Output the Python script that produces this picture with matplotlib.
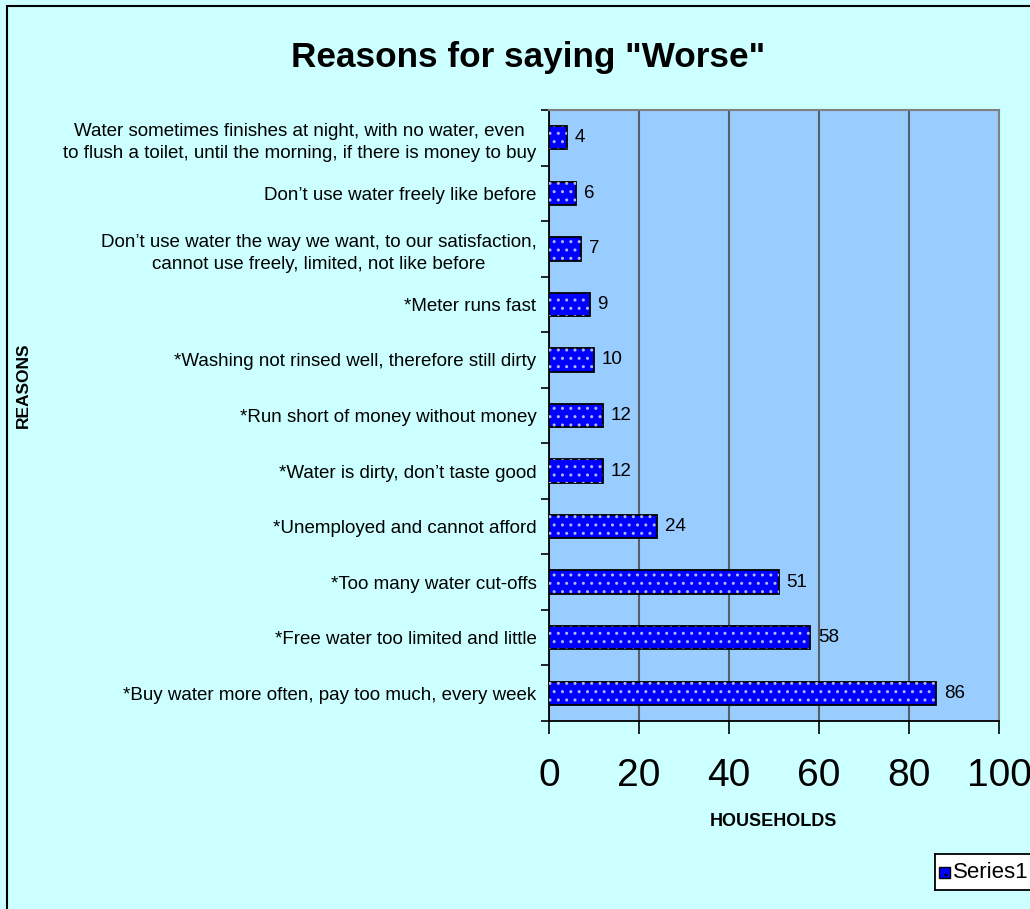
import matplotlib.pyplot as plt
from matplotlib.patches import Rectangle

plt.rcParams['font.family'] = ['Liberation Sans', 'DejaVu Sans']
plt.rcParams['hatch.linewidth'] = 1.0

reasons = [
    "*Buy water more often, pay too much, every week",
    "*Free water too limited and little",
    "*Too many water cut-offs",
    "*Unemployed and cannot afford",
    "*Water is dirty, don\u2019t taste good",
    "*Run short of money without money",
    "*Washing not rinsed well, therefore still dirty",
    "*Meter runs fast",
    "Don\u2019t use water the way we want, to our satisfaction,\ncannot use freely, limited, not like before",
    "Don\u2019t use water freely like before",
    "Water sometimes finishes at night, with no water, even\nto flush a toilet, until the morning, if there is money to buy",
]
households = [86, 58, 51, 24, 12, 12, 10, 9, 7, 6, 4]
xticks = [0, 20, 40, 60, 80, 100]

fig = plt.figure(figsize=(10.30, 9.09), dpi=100)
fig.patch.set_facecolor('#CCFFFF')

# outer frame (cut off on the right and bottom)
fig.add_artist(Rectangle((7 / 1030, -0.01), 1.05, 1 - 6 / 909 + 0.01,
                         transform=fig.transFigure, fill=False,
                         edgecolor='black', linewidth=1.5))

ax = fig.add_axes([549 / 1030, 1 - 721 / 909, 450 / 1030, 611 / 909])
ax.set_facecolor('#99CCFF')

y = list(range(len(reasons)))
ax.barh(y, households, height=0.42, color='#0000FF', edgecolor='black', linewidth=1.3, zorder=3)
ax.barh(y, households, height=0.42, color='none', edgecolor='#B4B4FF', hatch='..',
        linewidth=0, zorder=4)

for yi, v in zip(y, households):
    ax.text(v + 1.8, yi, str(v), va='center', ha='left', fontsize=13.5, zorder=5)

ax.set_xlim(0, 100)
ax.set_ylim(-0.5, len(reasons) - 0.5)
ax.set_xticks(xticks)
ax.set_xticklabels([str(t) for t in xticks], fontsize=28)
ax.tick_params(axis='x', length=9, width=1.2, pad=18)
ax.set_yticks(y)
ax.set_yticklabels(reasons, fontsize=13.5, linespacing=1.38, multialignment='center')
ax.tick_params(axis='y', which='major', length=0, pad=9)
ax.set_yticks([i + 0.5 for i in range(-1, len(reasons))], minor=True)
ax.tick_params(axis='y', which='minor', length=6, width=1.2)

ax.grid(axis='x', color='#55606c', linewidth=1.5, zorder=1)
ax.set_axisbelow(True)
for side in ['top', 'right']:
    ax.spines[side].set_color('#808080')
    ax.spines[side].set_linewidth(1.5)
for side in ['left', 'bottom']:
    ax.spines[side].set_color('black')
    ax.spines[side].set_linewidth(1.3)

fig.text(528 / 1030, 1 - 57 / 909, 'Reasons for saying "Worse"', ha='center', va='center',
         fontsize=25.3, fontweight='bold')
fig.text(773 / 1030, 1 - 822 / 909, 'HOUSEHOLDS', ha='center', va='center',
         fontsize=13, fontweight='bold')
fig.text(23 / 1030, 1 - 385 / 909, 'REASONS', ha='center', va='center', rotation=90,
         fontsize=12.5, fontweight='bold')

# legend box
leg_ax = fig.add_axes([935 / 1030, 1 - 890 / 909, 100 / 1030, 36 / 909])
leg_ax.set_xlim(0, 100)
leg_ax.set_ylim(0, 36)
leg_ax.set_xticks([])
leg_ax.set_yticks([])
leg_ax.set_facecolor('white')
for s in leg_ax.spines.values():
    s.set_linewidth(1.3)
leg_ax.add_patch(Rectangle((4, 12), 11, 11, facecolor='#0000FF', edgecolor='black',
                           linewidth=1, hatch='..'))
leg_ax.text(18, 17.5, 'Series1', va='center', ha='left', fontsize=16)

fig.savefig('out.png', dpi=100, facecolor=fig.get_facecolor())
